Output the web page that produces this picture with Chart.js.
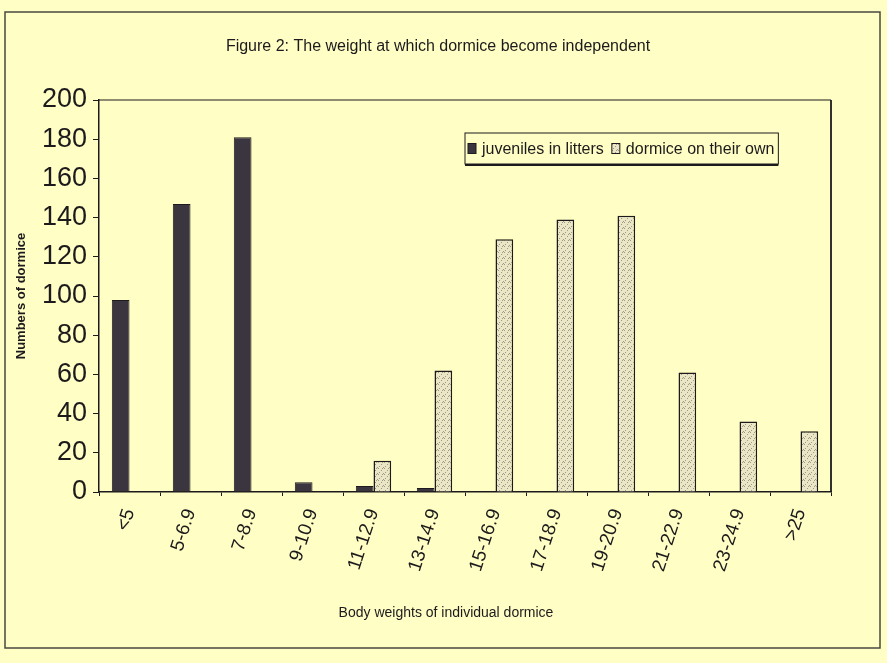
<!DOCTYPE html>
<html>
<head>
<meta charset="utf-8">
<title>Figure 2</title>
<script src="https://cdn.jsdelivr.net/npm/chart.js@4"></script>
<style>
  html, body { margin: 0; padding: 0; background: #fffec4; }
  #wrap { width: 887px; height: 663px; }
</style>
</head>
<body>
<div id="wrap"><canvas id="dormice-chart"></canvas></div>
<script>
// ====
// Data
// ====
const weightClasses = [
  '<5', '5-6.9', '7-8.9', '9-10.9', '11-12.9', '13-14.9',
  '15-16.9', '17-18.9', '19-20.9', '21-22.9', '23-24.9', '>25',
];
const juvenilesInLitters = [98, 147, 181, 5, 3, 2, 0, 0, 0, 0, 0, 0];
const dormiceOnOwn = [0, 0, 0, 0, 16, 62, 129, 139, 141, 61, 36, 31];
const yTicks = [0, 20, 40, 60, 80, 100, 120, 140, 160, 180, 200];

const figureTitle = 'Figure 2: The weight at which dormice become independent';
const xTitle = 'Body weights of individual dormice';
const yTitle = 'Numbers of dormice';

const FONT = "'Liberation Sans', Arial, sans-serif";
const NARROW = "'Liberation Sans Narrow', 'Arial Narrow', 'Liberation Sans', sans-serif";
const PAPER = '#fffec4';
const INK = '#1c1a1c';

//  Stippled fill for the "on their own" bars
//  ------------------------------------------
const makeStipple = () => {
  const c = document.createElement('canvas');
  c.width = 6;
  c.height = 6;
  const g = c.getContext('2d');
  g.fillStyle = '#ebe7c6';
  g.fillRect(0, 0, 6, 6);
  g.fillStyle = '#9d9a86';
  [[0, 0], [3, 2], [1, 4], [5, 5], [4, 0]].forEach(([x, y]) => g.fillRect(x, y, 1, 1));
  return g.createPattern(c, 'repeat');
};
const stipple = makeStipple();

// =======
// Plugins
// =======
const paper = {
  id: 'paper',
  beforeDraw(chart) {
    const {ctx, width, height} = chart;
    ctx.save();
    ctx.fillStyle = PAPER;
    ctx.fillRect(0, 0, width, height);
    ctx.restore();
  },
  afterDraw(chart) {
    const {ctx, chartArea} = chart;
    ctx.save();
    // outer frame of the figure
    ctx.strokeStyle = '#4a4840';
    ctx.lineWidth = 1.5;
    ctx.strokeRect(5, 12, 875, 636);
    // top and right edges of the plot area
    ctx.strokeStyle = INK;
    ctx.lineWidth = 1;
    ctx.beginPath();
    ctx.moveTo(chartArea.left, chartArea.top);
    ctx.lineTo(chartArea.right, chartArea.top);
    ctx.stroke();
    ctx.lineWidth = 1.8;
    ctx.beginPath();
    ctx.moveTo(chartArea.right, chartArea.top);
    ctx.lineTo(chartArea.right, chartArea.bottom);
    ctx.stroke();

    // figure title and x axis caption (placed off-centre as in the original)
    ctx.fillStyle = INK;
    ctx.textAlign = 'center';
    ctx.textBaseline = 'middle';
    ctx.font = '16px ' + FONT;
    ctx.fillText(figureTitle, 438, 47);
    ctx.font = '14px ' + FONT;
    ctx.fillText(xTitle, 446, 613);
    ctx.restore();
  },
};

//  Legend box inside the plot area
const legendBox = {
  id: 'legendBox',
  afterDatasetsDraw(chart) {
    const {ctx} = chart;
    const left = 465, top = 133, h = 31;
    ctx.save();
    ctx.font = '16px ' + FONT;
    ctx.textBaseline = 'middle';
    let x = left + 3;
    const mid = top + h / 2;
    const parts = [];
    chart.data.datasets.forEach((ds) => {
      parts.push({ds, x});
      x += 8 + 6 + ctx.measureText(ds.label).width + 8;
    });
    const right = x - 4;

    ctx.strokeStyle = INK;
    ctx.lineWidth = 1;
    ctx.strokeRect(left, top, right - left, h);
    ctx.lineWidth = 2;
    ctx.beginPath();
    ctx.moveTo(left, top + h + 1);
    ctx.lineTo(right, top + h + 1);
    ctx.stroke();

    parts.forEach(({ds, x}) => {
      ctx.fillStyle = ds.backgroundColor;
      ctx.fillRect(x, mid - 5, 8, 10);
      ctx.strokeStyle = ds.borderColor;
      ctx.lineWidth = 1;
      ctx.strokeRect(x, mid - 5, 8, 10);
      ctx.fillStyle = INK;
      ctx.fillText(ds.label, x + 14, mid + 1);
    });
    ctx.restore();
  },
};

// =====
// Chart
// =====
const canvas = document.getElementById('dormice-chart');

new Chart(canvas, {
  type: 'bar',
  data: {
    labels: weightClasses,
    datasets: [
      {
        label: 'juveniles in litters',
        data: juvenilesInLitters,
        backgroundColor: '#3a353e',
        borderColor: '#1e1b20',
        borderWidth: 1,
      },
      {
        label: 'dormice on their own',
        data: dormiceOnOwn,
        backgroundColor: stipple,
        borderColor: INK,
        borderWidth: 1.5,
      },
    ],
  },
  options: {
    responsive: true,
    maintainAspectRatio: false,
    devicePixelRatio: 1,
    animation: false,
    layout: {
      padding: {left: 8, right: 56, top: 100, bottom: 0},
    },
    datasets: {
      bar: {categoryPercentage: 0.58, barPercentage: 1.0},
    },
    scales: {
      x: {
        grid: {
          drawOnChartArea: false,
          tickLength: 4,
          color: INK,
        },
        border: {color: INK, width: 1.5},
        ticks: {
          color: INK,
          font: {family: NARROW, size: 19},
          minRotation: 72,
          maxRotation: 72,
          padding: 10,
          autoSkip: false,
        },
        afterFit: (scale) => { scale.height = 171; },
      },
      y: {
        min: 0,
        max: 200,
        afterBuildTicks: (scale) => {
          scale.ticks = yTicks.map((v) => ({value: v}));
        },
        grid: {
          drawOnChartArea: false,
          tickLength: 6,
          color: INK,
        },
        border: {color: INK, width: 1.5},
        ticks: {
          color: INK,
          font: {family: NARROW, size: 27},
          padding: 6,
        },
        title: {
          display: true,
          text: yTitle,
          color: INK,
          font: {family: FONT, size: 13, weight: 'bold'},
          padding: {top: 6, bottom: 0},
        },
        afterFit: (scale) => { scale.width = 91; },
      },
    },
    plugins: {
      legend: {display: false},
      tooltip: {enabled: false},
    },
  },
  plugins: [paper, legendBox],
});
</script>
</body>
</html>
